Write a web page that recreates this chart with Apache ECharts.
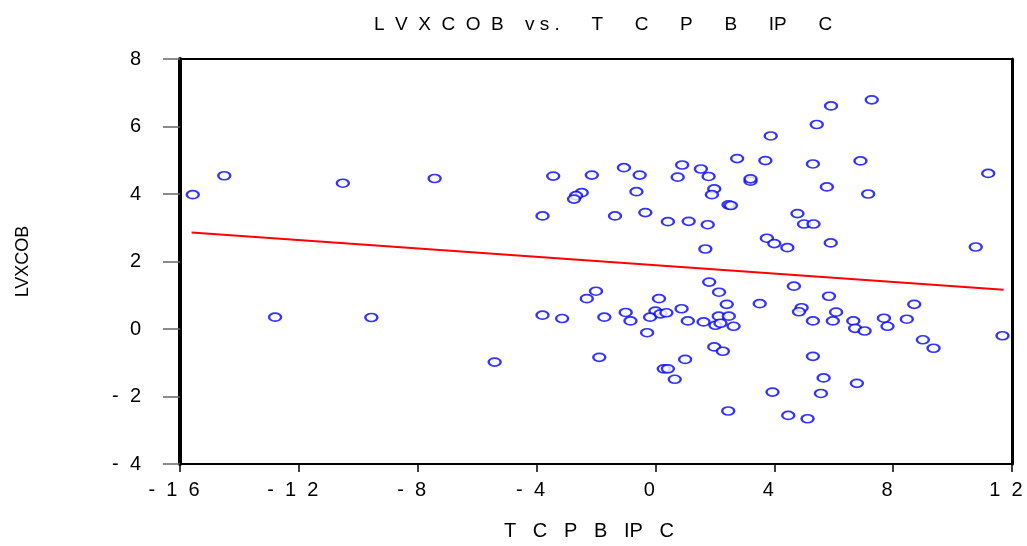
<!DOCTYPE html>
<html>
<head>
<meta charset="utf-8">
<script src="https://cdn.jsdelivr.net/npm/echarts@6/dist/echarts.min.js"></script>
<style>html,body{margin:0;padding:0;background:#fff;overflow:hidden}#c{width:1027px;height:546px}</style>
</head>
<body>
<div id="c"></div>
<script>
const titleText = 'L  V  X  C  O  B    v s .      T      C      P      B      IP      C';
const xName = 'T   C   P   B   IP   C';
const yName = 'LVXCOB';
const xTicks = [-16, -12, -8, -4, 0, 4, 8, 12];
const yTicks = [-4, -2, 0, 2, 4, 6, 8];

const tcpbipc = [-15.57,-14.51,-10.52,-7.43,-12.80,-9.56,-5.41,-3.44,-2.14,-1.06,-0.53,0.90,0.75,-2.48,-2.67,-2.74,-0.64,-3.80,-1.36,-0.34,0.42,-2.00,-2.31,0.12,-3.80,-3.14,-1.72,-1.00,-0.84,0.00,-0.18,0.17,0.37,-0.28,0.88,-1.89,0.28,0.42,0.65,1.00,5.91,5.43,3.88,2.75,3.70,5.30,6.90,1.53,1.79,3.20,3.20,1.98,1.90,2.46,2.54,5.77,4.78,5.00,5.32,1.12,1.76,3.75,4.00,4.44,5.90,1.68,1.81,2.14,2.40,1.09,1.62,2.13,2.47,2.02,2.19,2.63,3.51,4.66,5.84,4.92,4.83,5.30,6.08,5.97,6.66,6.72,7.04,1.98,2.27,5.30,5.66,6.78,3.94,5.57,2.45,4.47,5.12,7.28,7.16,11.20,10.78,8.71,7.69,8.46,7.81,9.00,9.36,11.68];
const lvxcob = [3.98,4.54,4.32,4.46,0.35,0.34,-0.98,4.53,4.56,4.78,4.56,4.86,4.50,4.04,3.95,3.85,4.07,3.35,3.35,3.45,3.18,1.12,0.90,0.90,0.41,0.31,0.35,0.49,0.24,0.53,0.35,0.45,0.48,-0.11,0.60,-0.84,-1.18,-1.18,-1.49,-0.90,6.61,6.06,5.72,5.05,4.99,4.89,4.98,4.74,4.52,4.38,4.45,4.15,3.98,3.68,3.66,4.21,3.42,3.11,3.11,3.19,3.09,2.69,2.53,2.41,2.55,2.37,1.39,1.09,0.73,0.24,0.21,0.38,0.38,0.11,0.17,0.08,0.75,1.27,0.97,0.63,0.51,0.24,0.50,0.24,0.24,0.02,-0.06,-0.53,-0.66,-0.81,-1.45,-1.61,-1.87,-1.91,-2.43,-2.56,-2.66,6.79,4.00,4.61,2.43,0.73,0.32,0.29,0.08,-0.32,-0.57,-0.20];

const fitX = [-15.61, 11.72];
const fitY = [2.86, 1.16];

const spaced = v => String(v).split('').join('  ');
const fmtX = v => xTicks.includes(v) ? spaced(v) : '';
const fmtY = v => yTicks.includes(v) ? spaced(v) : '';

const scatterData = tcpbipc.map((x, i) => [x, lvxcob[i]]);
const fitData = fitX.map((x, i) => [x, fitY[i]]);
const FONT = 'Liberation Sans';

const chart = echarts.init(document.getElementById('c'), null, {renderer: 'canvas', width: 1027, height: 546});
chart.setOption({
  animation: false,
  backgroundColor: '#fff',
  title: {
    text: titleText, left: 598, top: 10, textAlign: 'center',
    textStyle: {fontFamily: FONT, fontSize: 19, fontWeight: 'normal', color: '#000'}
  },
  grid: {left: 180, right: 15, top: 59, bottom: 77, show: true, borderColor: '#000', borderWidth: 2, containLabel: false},
  xAxis: [{
    type: 'value', min: -16, max: 12, interval: 4,
    name: xName, nameLocation: 'middle', nameGap: 57,
    nameTextStyle: {fontFamily: FONT, fontSize: 20, color: '#000', padding: [0, 14, 0, 0]},
    axisLine: {show: true, onZero: false, lineStyle: {color: '#000', width: 2}},
    axisTick: {show: true, inside: false, length: 8, lineStyle: {color: '#000', width: 1.5}},
    axisLabel: {formatter: fmtX, fontFamily: FONT, fontSize: 20, color: '#000', margin: 16, padding: [0, 12, 0, 0]},
    splitLine: {show: false}
  }],
  yAxis: [{
    type: 'value', min: -4, max: 8, interval: 2,
    name: yName, nameLocation: 'middle', nameGap: 148, nameRotate: 90,
    nameTextStyle: {fontFamily: FONT, fontSize: 18, color: '#000'},
    axisLine: {show: true, onZero: false, lineStyle: {color: '#000', width: 4}},
    axisTick: {show: true, inside: false, length: 17, lineStyle: {color: '#666', width: 1.5}},
    axisLabel: {formatter: fmtY, fontFamily: FONT, fontSize: 20, color: '#000', margin: 39},
    splitLine: {show: false}
  }, {
    type: 'value', min: -4, max: 8, interval: 2, position: 'right',
    axisLine: {show: true, onZero: false, lineStyle: {color: '#000', width: 3}},
    axisTick: {show: false}, axisLabel: {show: false}, splitLine: {show: false}
  }],
  series: [{
    type: 'scatter', data: scatterData,
    symbol: 'emptyCircle', symbolSize: [12, 8],
    itemStyle: {color: '#0000ff', borderColor: '#0000ff', borderWidth: 2},
    z: 3
  }, {
    type: 'line', data: fitData, showSymbol: false, symbol: 'none',
    lineStyle: {color: '#ff0000', width: 2}, z: 4
  }]
});
</script>
</body>
</html>
